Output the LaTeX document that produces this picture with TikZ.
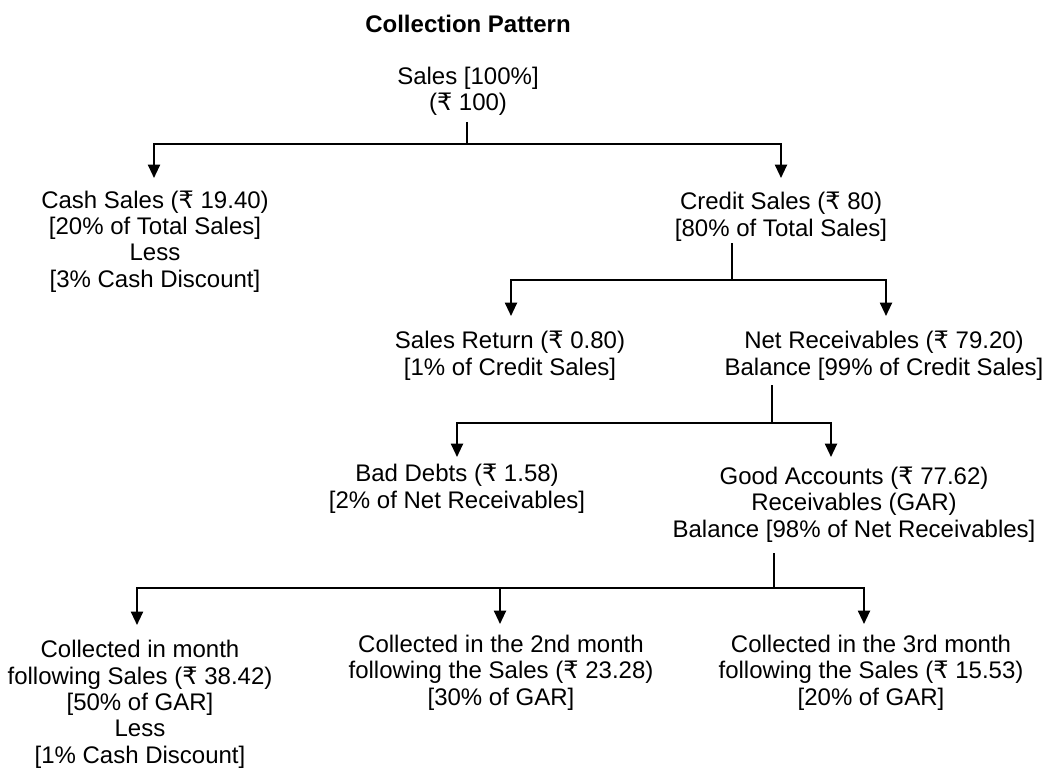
\documentclass[tikz,border=0pt]{standalone}
\usepackage{fontspec}
\setmainfont{Liberation Sans}
\newfontfamily\rupeefont{DejaVu Sans}
\newcommand\Rs{{\rupeefont ₹}}
\usetikzlibrary{arrows.meta}
\begin{document}
\begin{tikzpicture}[x=0.75pt,y=-0.75pt,
  % multi-line labels are anchored at the baseline of their last line
  lbl/.style={anchor=base, align=center, inner sep=0pt,
    font=\fontsize{18}{19.75}\selectfont},
  ttl/.style={anchor=base, inner sep=0pt,
    font=\fontsize{18}{19.75}\selectfont\bfseries},
  wire/.style={line width=1.5pt},
  arr/.style={wire, -{Triangle[width=9pt,length=10pt]}}]
\useasboundingbox (0,0) rectangle (1049,770);

% labels
\node[ttl] (title) at (468,33) {Collection Pattern};
\node[lbl] (sales) at (468,111) {Sales [100\%]\\(\Rs\ 100)};
\node[lbl] (cash) at (155,287) {Cash Sales (\Rs\ 19.40)\\{}[20\% of Total Sales]\\Less\\{}[3\% Cash Discount]};
\node[lbl] (credit) at (781,236) {Credit Sales (\Rs\ 80)\\{}[80\% of Total Sales]};
\node[lbl] (ret) at (510,375) {Sales Return (\Rs\ 0.80)\\{}[1\% of Credit Sales]};
\node[lbl] (net) at (884,375) {Net Receivables (\Rs\ 79.20)\\Balance [99\% of Credit Sales]};
\node[lbl] (bad) at (457,508) {Bad Debts (\Rs\ 1.58)\\{}[2\% of Net Receivables]};
\node[lbl] (good) at (854,537) {Good Accounts (\Rs\ 77.62)\\Receivables (GAR)\\Balance [98\% of Net Receivables]};
\node[lbl] (c1) at (140,763) {Collected in month\\following Sales (\Rs\ 38.42)\\{}[50\% of GAR]\\Less\\{}[1\% Cash Discount]};
\node[lbl] (c2) at (501,705) {Collected in the 2nd month\\following the Sales (\Rs\ 23.28)\\{}[30\% of GAR]};
\node[lbl] (c3) at (871,705) {Collected in the 3rd month\\following the Sales (\Rs\ 15.53)\\{}[20\% of GAR]};

% stub tops, bus junctions and arrow tips
\coordinate (sales-out) at (467,122);  \coordinate (bus0) at (467,144);
\coordinate (cash-in) at (154,178);    \coordinate (credit-in) at (781,178);
\coordinate (credit-out) at (732,243); \coordinate (bus1) at (732,280);
\coordinate (ret-in) at (511,316);     \coordinate (net-in) at (886,316);
\coordinate (net-out) at (772,385);    \coordinate (bus2) at (772,423);
\coordinate (bad-in) at (457,457);     \coordinate (good-in) at (831,457);
\coordinate (good-out) at (774,553);   \coordinate (bus3) at (774,588);
\coordinate (c1-in) at (137,625);      \coordinate (c2-in) at (500,624);
\coordinate (c3-in) at (864,624);

% connectors
\draw[wire] (sales-out) -- (bus0);
\draw[arr] (bus0) -| (cash-in);
\draw[arr] (bus0) -| (credit-in);

\draw[wire] (credit-out) -- (bus1);
\draw[arr] (bus1) -| (ret-in);
\draw[arr] (bus1) -| (net-in);

\draw[wire] (net-out) -- (bus2);
\draw[arr] (bus2) -| (bad-in);
\draw[arr] (bus2) -| (good-in);

\draw[wire] (good-out) -- (bus3);
\draw[arr] (bus3) -| (c1-in);
\draw[arr] (bus3) -| (c2-in);
\draw[arr] (bus3) -| (c3-in);
\end{tikzpicture}
\end{document}
